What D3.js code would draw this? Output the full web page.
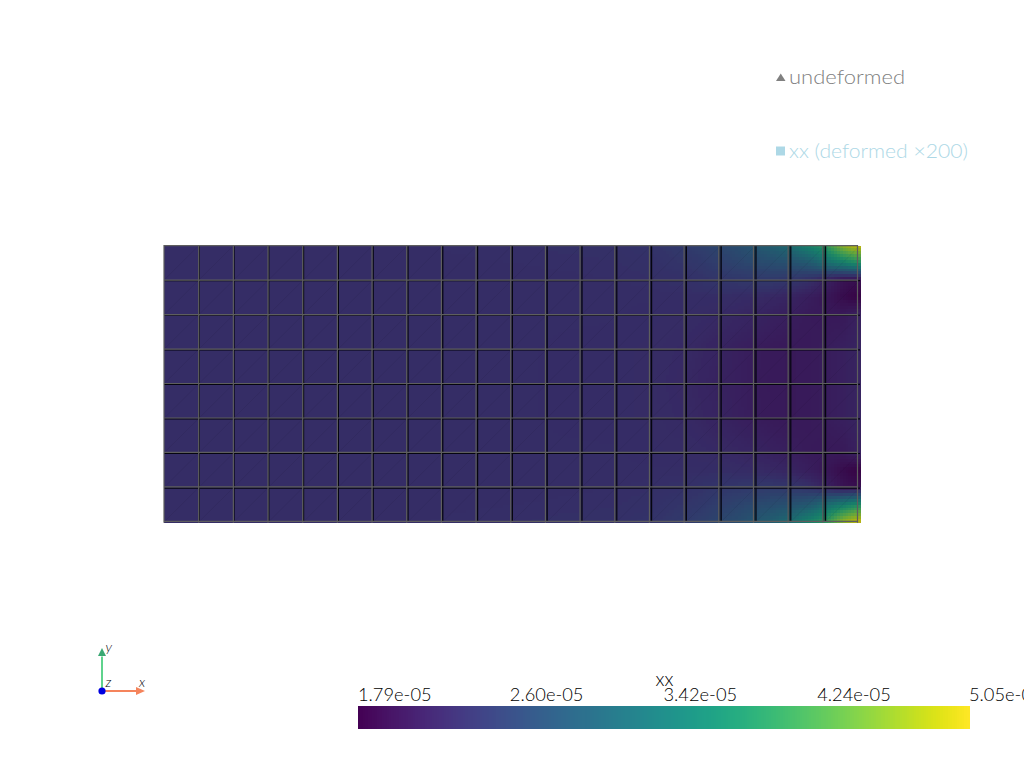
<!DOCTYPE html>
<html>
<head>
<meta charset="utf-8">
<script src="https://cdn.jsdelivr.net/npm/d3@7"></script>
<style>
  html, body { margin: 0; background: #fff; }
  svg { display: block; }
  text { font-family: Lato, sans-serif; font-weight: 300; }
</style>
</head>
<body>
<svg id="chart" width="1024" height="768"></svg>
<script>
// mesh size, in elements
const nCols = 20
const nRows = 8

// where the xx field was read, in element coordinates
const fieldCols = [0, 5, 10, 13, 14, 15, 15.5, 16, 16.5, 17, 17.5, 18, 18.5, 19, 19.5, 20]
const fieldRows = [0, 0.5, 1, 1.5, 2, 3, 4, 5, 6, 6.5, 7, 7.5, 8]

// xx values, unit 1e-5, one row per fieldRows entry
const xxValues = [
    [2.34, 2.34, 2.36, 2.38, 2.42, 2.52, 2.6, 2.7, 2.8, 2.95, 3.1, 3.3, 3.7, 4.0, 4.7, 5.05],
    [2.34, 2.34, 2.35, 2.36, 2.38, 2.45, 2.5, 2.58, 2.66, 2.74, 2.8, 2.86, 2.98, 3.3, 3.6, 3.9],
    [2.34, 2.34, 2.34, 2.35, 2.36, 2.38, 2.42, 2.46, 2.48, 2.5, 2.5, 2.46, 2.38, 2.2, 2.0, 1.95],
    [2.34, 2.34, 2.34, 2.34, 2.34, 2.34, 2.34, 2.34, 2.32, 2.3, 2.26, 2.22, 2.14, 2.06, 1.92, 1.82],
    [2.34, 2.34, 2.34, 2.34, 2.33, 2.32, 2.31, 2.29, 2.26, 2.22, 2.18, 2.14, 2.1, 2.08, 2.08, 2.18],
    [2.34, 2.34, 2.34, 2.33, 2.32, 2.29, 2.25, 2.21, 2.16, 2.12, 2.09, 2.08, 2.09, 2.12, 2.16, 2.22],
    [2.34, 2.34, 2.34, 2.33, 2.32, 2.27, 2.23, 2.19, 2.15, 2.11, 2.09, 2.08, 2.09, 2.12, 2.16, 2.22],
    [2.34, 2.34, 2.34, 2.33, 2.32, 2.29, 2.25, 2.21, 2.16, 2.12, 2.09, 2.08, 2.09, 2.12, 2.16, 2.22],
    [2.34, 2.34, 2.34, 2.34, 2.33, 2.32, 2.31, 2.29, 2.26, 2.22, 2.18, 2.14, 2.1, 2.08, 2.08, 2.18],
    [2.34, 2.34, 2.34, 2.34, 2.34, 2.34, 2.34, 2.34, 2.32, 2.3, 2.26, 2.22, 2.14, 2.06, 1.92, 1.82],
    [2.34, 2.34, 2.34, 2.35, 2.36, 2.38, 2.42, 2.46, 2.48, 2.5, 2.5, 2.46, 2.38, 2.2, 2.0, 1.95],
    [2.34, 2.34, 2.35, 2.36, 2.38, 2.45, 2.5, 2.58, 2.66, 2.74, 2.8, 2.86, 2.98, 3.3, 3.6, 3.9],
    [2.34, 2.34, 2.36, 2.38, 2.42, 2.52, 2.6, 2.7, 2.8, 2.95, 3.1, 3.3, 3.7, 4.0, 4.7, 5.05]
]

const tickValues = [1.79, 2.6, 3.42, 4.24, 5.05]
const tickLabels = ['1.79e-05', '2.60e-05', '3.42e-05', '4.24e-05', '5.05e-05']

const legendLabels = ['undeformed', 'xx (deformed \u00d7200)']
const legendColors = ['#808080', '#add8e6']
const legendWidths = [116, 179]

const svg = d3.select('#chart')

// deformed and undeformed mesh scales
const xDef = d3.scaleLinear().domain([0, nCols]).range([164, 860])
const yDef = d3.scaleLinear().domain([0, nRows]).range([245.5, 522])
const xUnd = d3.scaleLinear().domain([0, nCols]).range([164, 857.5])
const yUnd = d3.scaleLinear().domain([0, nRows]).range([246, 521.8])

const color = d3.scaleSequential(d3.interpolateViridis).domain([1.79, 5.05])

// bilinear lookup in the table above, only for painting inside the cells
function xxAt(cx, cy) {
    const i = Math.min(d3.bisectRight(fieldCols, cx), fieldCols.length - 1)
    const j = Math.min(d3.bisectRight(fieldRows, cy), fieldRows.length - 1)
    const u = (cx - fieldCols[i - 1]) / (fieldCols[i] - fieldCols[i - 1])
    const v = (cy - fieldRows[j - 1]) / (fieldRows[j] - fieldRows[j - 1])
    const top = d3.interpolateNumber(xxValues[j - 1][i - 1], xxValues[j - 1][i])(u)
    const bottom = d3.interpolateNumber(xxValues[j][i - 1], xxValues[j][i])(u)
    return d3.interpolateNumber(top, bottom)(v)
}

// surface

const sub = 12
const samples = d3.cross(d3.range(nCols * sub), d3.range(nRows * sub))

// bits of the pale undeformed surface showing past the right edge
const edgeBits = [[0.75, 3.1], [6, 8]]
svg.append('g').selectAll('rect')
    .data(edgeBits)
    .enter()
    .append('rect')
    .attr('x', xDef(nCols) - 2)
    .attr('y', d => yDef(d[0]))
    .attr('width', 3)
    .attr('height', d => yDef(d[1]) - yDef(d[0]))
    .attr('fill', '#c4c4c8')

const surface = svg.append('g').attr('shape-rendering', 'crispEdges')

surface.selectAll('rect')
    .data(samples)
    .enter()
    .append('rect')
    .attr('x', d => xDef(d[0] / sub))
    .attr('y', d => yDef(d[1] / sub))
    .attr('width', (xDef(1) - xDef(0)) / sub + 0.5)
    .attr('height', (yDef(1) - yDef(0)) / sub + 0.5)
    .attr('fill', d => {
        // the lit surface comes out darker than the colour bar
        const c = d3.rgb(color(xxAt((d[0] + 0.5) / sub, (d[1] + 0.5) / sub)))
        return d3.rgb(c.r * 0.78, c.g * 0.78, c.b * 0.78)
    })

// mesh lines

const mesh = svg.append('g').attr('fill', 'none')

// faint triangle diagonals
mesh.selectAll('line.diag')
    .data(d3.cross(d3.range(nCols), d3.range(nRows)))
    .enter()
    .append('line')
    .attr('class', 'diag')
    .attr('x1', d => xDef(d[0]))
    .attr('y1', d => yDef(d[1] + 1))
    .attr('x2', d => xDef(d[0] + 1))
    .attr('y2', d => yDef(d[1]))
    .attr('stroke', '#000')
    .attr('stroke-opacity', 0.1)
    .attr('stroke-width', 0.6)

// strip between the two meshes
mesh.selectAll('rect.strip')
    .data(d3.range(1, nCols))
    .enter()
    .append('rect')
    .attr('class', 'strip')
    .attr('x', d => xUnd(d))
    .attr('y', yDef(0))
    .attr('width', d => xDef(d) - xUnd(d))
    .attr('height', yDef(nRows) - yDef(0))
    .attr('fill', '#000')
    .attr('fill-opacity', 0.35)

// deformed mesh in black
mesh.selectAll('line.defv')
    .data(d3.range(1, nCols))
    .enter()
    .append('line')
    .attr('class', 'defv')
    .attr('x1', d => xDef(d) + 0.4)
    .attr('x2', d => xDef(d) + 0.4)
    .attr('y1', yDef(0))
    .attr('y2', yDef(nRows))
    .attr('stroke', '#05050f')
    .attr('stroke-width', 1.2)

mesh.selectAll('line.defh')
    .data(d3.range(1, nRows))
    .enter()
    .append('line')
    .attr('class', 'defh')
    .attr('x1', xDef(0))
    .attr('x2', xDef(nCols))
    .attr('y1', d => yDef(d) + 0.6)
    .attr('y2', d => yDef(d) + 0.6)
    .attr('stroke', '#05050f')
    .attr('stroke-width', 1.2)

// undeformed mesh in grey
mesh.selectAll('line.undv')
    .data(d3.range(0, nCols + 1))
    .enter()
    .append('line')
    .attr('class', 'undv')
    .attr('x1', d => xUnd(d))
    .attr('x2', d => xUnd(d))
    .attr('y1', yUnd(0) - 1)
    .attr('y2', yUnd(nRows) + 1)
    .attr('stroke', '#5e5e5e')
    .attr('stroke-width', 1.2)

mesh.selectAll('line.undh')
    .data(d3.range(0, nRows + 1))
    .enter()
    .append('line')
    .attr('class', 'undh')
    .attr('x1', xUnd(0))
    .attr('x2', xUnd(nCols))
    .attr('y1', d => yUnd(d) - 0.4)
    .attr('y2', d => yUnd(d) - 0.4)
    .attr('stroke', '#5e5e5e')
    .attr('stroke-width', 1.2)

// legend

const legendY = d3.scalePoint().domain(legendLabels).range([77, 151])

const legend = svg.append('g').selectAll('g')
    .data(legendLabels)
    .enter()
    .append('g')
    .attr('transform', d => 'translate(0,' + legendY(d) + ')')

legend.append('path')
    .attr('d', (d, i) => i === 0 ? 'M776,4L785.5,4L780.75,-3.5Z' : 'M776,-4.5H785V4.5H776Z')
    .attr('fill', (d, i) => legendColors[i])

legend.append('text')
    .attr('x', 789)
    .attr('y', 6.5)
    .attr('font-size', 20)
    .attr('font-weight', 400)
    .attr('textLength', (d, i) => legendWidths[i])
    .attr('lengthAdjust', 'spacingAndGlyphs')
    .attr('fill', (d, i) => legendColors[i])
    .text(d => d)

// colour bar

const barX = d3.scaleLinear().domain([1.79, 5.05]).range([358, 969])
const barSteps = d3.range(256)

svg.append('g')
    .attr('shape-rendering', 'crispEdges')
    .selectAll('rect')
    .data(barSteps)
    .enter()
    .append('rect')
    .attr('x', d => barX(1.79 + d / 256 * 3.26))
    .attr('y', 706)
    .attr('width', (969 - 358) / 256 + 0.5)
    .attr('height', 23)
    .attr('fill', d => color(1.79 + (d + 0.5) / 256 * 3.26))

svg.append('g').selectAll('text')
    .data(tickValues)
    .enter()
    .append('text')
    .attr('x', d => barX(d))
    .attr('y', 700.5)
    .attr('font-size', 18.3)
    .attr('fill', '#000')
    .text((d, i) => tickLabels[i])

svg.append('text')
    .attr('x', 655.5)
    .attr('y', 686)
    .attr('font-size', 19)
    .attr('fill', '#000')
    .text('xx')

// axes widget

const axisScale = d3.scaleLinear().domain([0, 1]).range([0, 43])
const origin = [102, 691]

svg.append('line')
    .attr('x1', origin[0]).attr('y1', origin[1])
    .attr('x2', origin[0] + axisScale(0.8)).attr('y2', origin[1])
    .attr('stroke', '#f5845c').attr('stroke-width', 2)

svg.append('path')
    .attr('d', 'M136,687L145,691L136,695Z')
    .attr('fill', '#f5845c')

svg.append('line')
    .attr('x1', origin[0]).attr('y1', origin[1])
    .attr('x2', origin[0]).attr('y2', origin[1] - axisScale(0.8))
    .attr('stroke', '#5fd38d').attr('stroke-width', 2)

svg.append('path')
    .attr('d', 'M98,656L102,648L106,656Z')
    .attr('fill', '#3aa873')

svg.append('circle')
    .attr('cx', origin[0]).attr('cy', origin[1])
    .attr('r', 3.6)
    .attr('fill', '#0000e0')

const axisLabels = [['y', 105.5, 652], ['z', 105.5, 687], ['x', 139, 687]]

svg.append('g').selectAll('text')
    .data(axisLabels)
    .enter()
    .append('text')
    .attr('x', d => d[1])
    .attr('y', d => d[2])
    .attr('font-size', 14)
    .attr('font-style', 'italic')
    .attr('font-weight', 400)
    .attr('fill', '#000')
    .text(d => d[0])
</script>
</body>
</html>
